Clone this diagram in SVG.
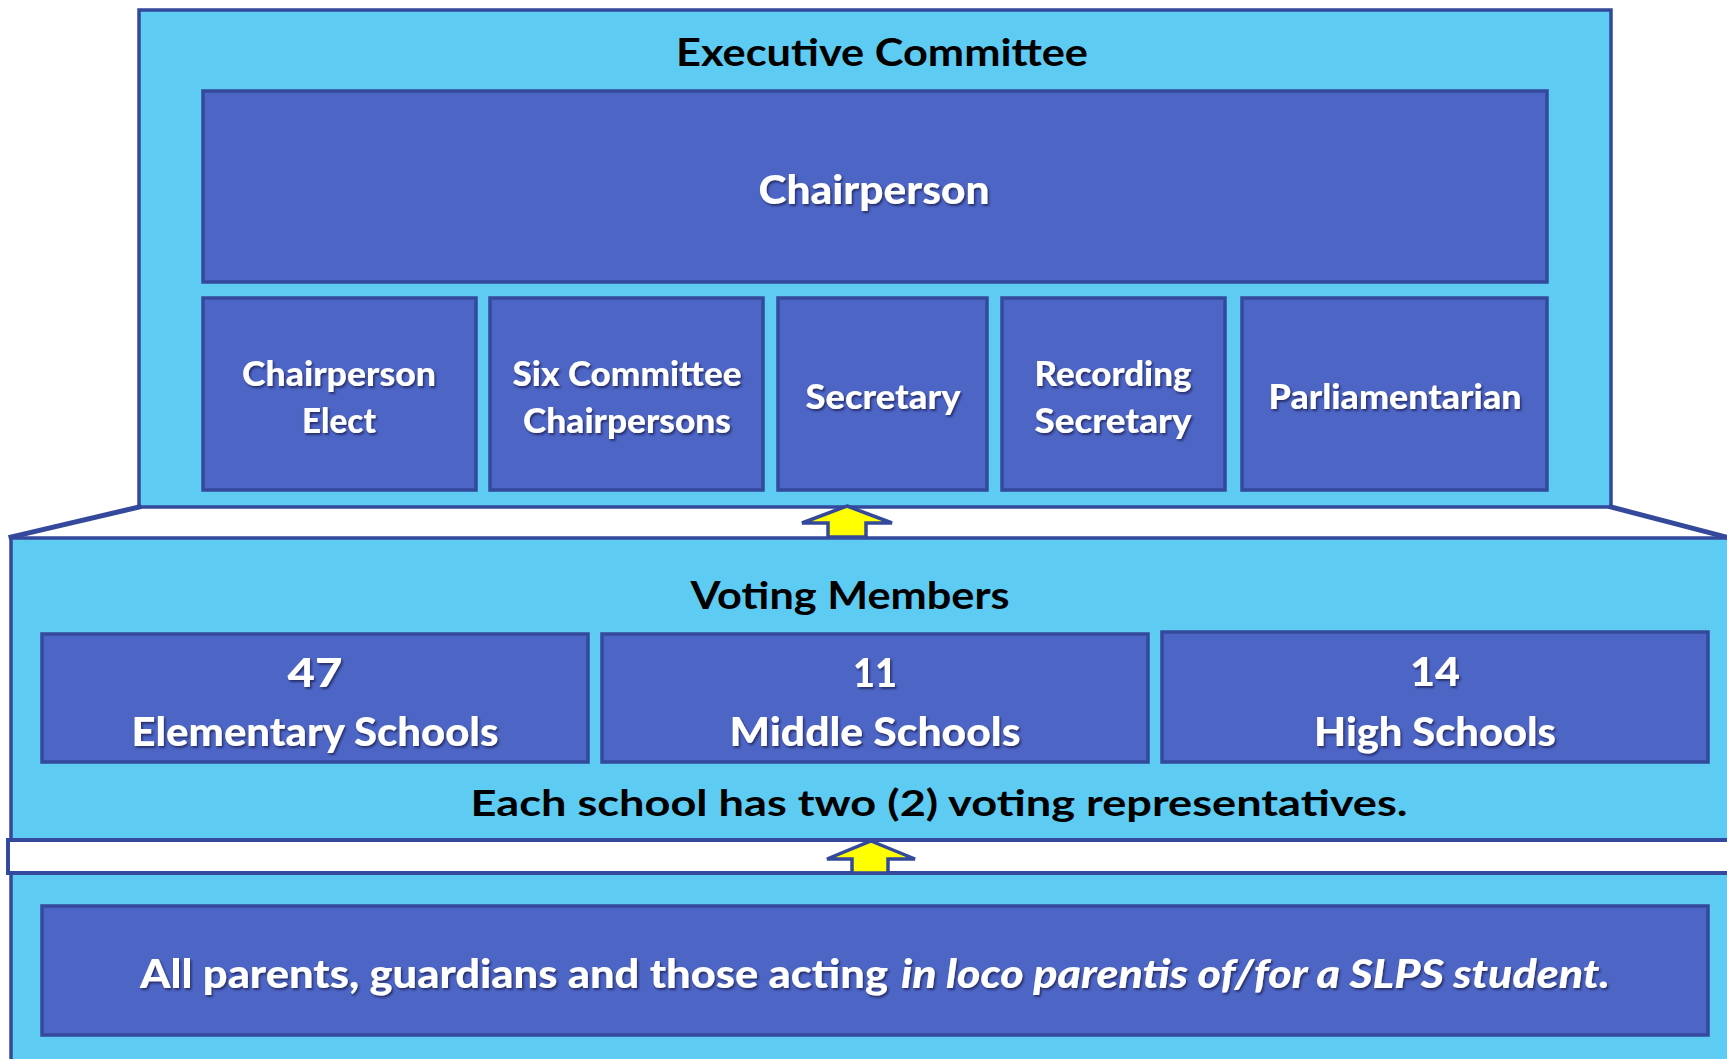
<svg xmlns="http://www.w3.org/2000/svg" width="1727" height="1059" viewBox="0 0 1727 1059">
<style>
.bg{fill:#fff}
.panel{fill:#5ECBF2;stroke:#34499B;stroke-width:3.5}
.box{fill:#4D66C6;stroke:#34499B;stroke-width:3.5}
.band{fill:#fff;stroke:#34499B;stroke-width:4}
.slant{fill:none;stroke:#34499B;stroke-width:5;stroke-linecap:square}
.arrow{fill:#FFFF00;stroke:#34499B;stroke-width:3.5;stroke-linejoin:miter}
.title{font-family:"Lato","Liberation Sans",sans-serif;font-weight:bold;fill:#000;text-anchor:middle}
.w{font-family:"Lato","Open Sans","Liberation Sans",sans-serif;font-weight:900;fill:#fff;text-anchor:middle;filter:url(#sh)}
.wl{font-family:"Lato","Open Sans","Liberation Sans",sans-serif;font-weight:900;fill:#fff;filter:url(#sh)}
</style>
<defs>
<filter id="sh" x="-5%" y="-20%" width="110%" height="150%">
<feDropShadow dx="1.5" dy="2" stdDeviation="1" flood-color="#1a1f4a" flood-opacity="0.75"/>
</filter>
</defs>
<rect class="bg" x="0" y="0" width="1727" height="1059"/>

<g id="voting-panel">
<rect class="panel" x="11" y="538" width="1740" height="540"/>
</g>
<g id="parents-band-panel">
<rect class="band" x="8" y="840" width="1740" height="33"/>
</g>

<g id="executive-committee">
<rect class="panel" x="139" y="10" width="1472" height="497"/>
<text class="title" x="882" y="66" font-size="38" textLength="412" lengthAdjust="spacingAndGlyphs">Executive Committee</text>
</g>

<g id="chairperson">
<rect class="box" x="203" y="91" width="1344" height="191"/>
<text class="w" x="874" y="204" font-size="40" textLength="231" lengthAdjust="spacingAndGlyphs">Chairperson</text>
</g>
<g id="chairperson-elect">
<rect class="box" x="203" y="298" width="273" height="192"/>
<text class="w" x="339" y="386" font-size="34" textLength="194" lengthAdjust="spacingAndGlyphs">Chairperson</text>
<text class="w" x="339" y="433" font-size="34" textLength="74" lengthAdjust="spacingAndGlyphs">Elect</text>
</g>
<g id="six-committee-chairpersons">
<rect class="box" x="490" y="298" width="273" height="192"/>
<text class="w" x="627" y="386" font-size="34" textLength="229" lengthAdjust="spacingAndGlyphs">Six Committee</text>
<text class="w" x="627" y="433" font-size="34" textLength="208" lengthAdjust="spacingAndGlyphs">Chairpersons</text>
</g>
<g id="secretary">
<rect class="box" x="778" y="298" width="209" height="192"/>
<text class="w" x="883" y="409" font-size="34" textLength="155" lengthAdjust="spacingAndGlyphs">Secretary</text>
</g>
<g id="recording-secretary">
<rect class="box" x="1002" y="298" width="223" height="192"/>
<text class="w" x="1113" y="386" font-size="34" textLength="157" lengthAdjust="spacingAndGlyphs">Recording</text>
<text class="w" x="1113" y="433" font-size="34" textLength="157" lengthAdjust="spacingAndGlyphs">Secretary</text>
</g>
<g id="parliamentarian">
<rect class="box" x="1242" y="298" width="305" height="192"/>
<text class="w" x="1395" y="409" font-size="34" textLength="253" lengthAdjust="spacingAndGlyphs">Parliamentarian</text>
</g>

<g id="voting-members">
<text class="title" x="850" y="609" font-size="38" textLength="319" lengthAdjust="spacingAndGlyphs">Voting Members</text>
</g>
<g id="elementary">
<rect class="box" x="42" y="634" width="546" height="128"/>
<text class="w" x="315" y="687" font-size="40" textLength="55" lengthAdjust="spacingAndGlyphs">47</text>
<text class="w" x="315" y="746" font-size="40" textLength="367" lengthAdjust="spacingAndGlyphs">Elementary Schools</text>
</g>
<g id="middle">
<rect class="box" x="602" y="634" width="546" height="128"/>
<text class="w" x="875" y="687" font-size="40" textLength="44" lengthAdjust="spacingAndGlyphs">11</text>
<text class="w" x="875" y="746" font-size="40" textLength="291" lengthAdjust="spacingAndGlyphs">Middle Schools</text>
</g>
<g id="high">
<rect class="box" x="1162" y="632" width="546" height="130"/>
<text class="w" x="1435" y="686" font-size="40" textLength="50" lengthAdjust="spacingAndGlyphs">14</text>
<text class="w" x="1435" y="746" font-size="40" textLength="242" lengthAdjust="spacingAndGlyphs">High Schools</text>
</g>
<g id="representatives-note">
<text class="title" x="939" y="816" font-size="36" textLength="937" lengthAdjust="spacingAndGlyphs">Each school has two (2) voting representatives.</text>
</g>

<g id="all-parents">
<rect class="box" x="42" y="906" width="1666" height="129"/>
<text class="wl" x="140" y="988" font-size="40" textLength="748" lengthAdjust="spacingAndGlyphs">All parents, guardians and those acting</text>
<text class="wl" x="901" y="988" font-size="40" font-style="italic" textLength="709" lengthAdjust="spacingAndGlyphs">in loco parentis of/for a SLPS student.</text>
</g>

<g id="connectors">
<polyline class="slant" points="139,507 11,537"/>
<polyline class="slant" points="1611,507 1730,538"/>
<polygon class="arrow" points="847,506 892,523 866,523 866,537 828,537 828,523 802,523"/>
<polygon class="arrow" points="871,841 915,859 888,859 888,873 852,873 852,859 827,859"/>
</g>
</svg>
